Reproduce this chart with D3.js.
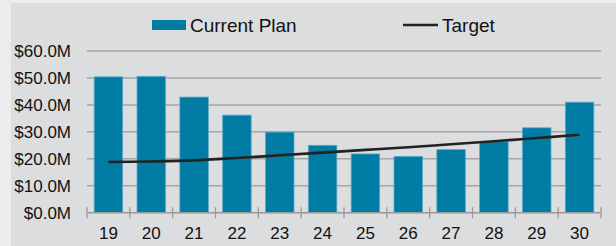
<!DOCTYPE html>
<html lang="en">
<head>
    <meta charset="UTF-8">
    <title>Current Plan vs Target</title>
    <script src="https://d3js.org/d3.v7.min.js"></script>
    <style>
        html, body { margin: 0; padding: 0; background: #ececec; }
        svg { display: block; font-family: "Liberation Sans", Arial, sans-serif; }
    </style>
</head>
<body>
    <svg></svg>
    <script>
        // Data
        const years = ["19", "20", "21", "22", "23", "24", "25", "26", "27", "28", "29", "30"];
        const currentPlan = [50.4, 50.6, 42.9, 36.2, 29.9, 25.0, 21.8, 20.9, 23.4, 26.3, 31.5, 41.0];
        const target = [18.8, 19.0, 19.4, 20.3, 21.3, 22.3, 23.3, 24.3, 25.4, 26.5, 27.7, 28.9];
        const yTicks = [0, 10, 20, 30, 40, 50, 60];

        const width = 616, height = 246;
        const svg = d3.select("svg").attr("width", width).attr("height", height);

        // grey panel
        svg.append("rect")
            .attr("x", 11).attr("y", 3)
            .attr("width", width - 11).attr("height", height - 3)
            .attr("fill", "#dcdddf");

        const x = d3.scaleBand()
            .domain(years)
            .range([87, 601])
            .paddingInner(0.335)
            .paddingOuter(0.1675);

        const y = d3.scaleLinear()
            .domain([0, 60])
            .range([212.7, 51]);

        // gridlines
        svg.append("g").selectAll("line")
            .data(yTicks.filter(d => d > 0))
            .enter().append("line")
            .attr("x1", 87).attr("x2", 601)
            .attr("y1", d => y(d)).attr("y2", d => y(d))
            .attr("stroke", "#a5a5a5")
            .attr("stroke-width", 1.5);

        // y axis labels
        svg.append("g").selectAll("text")
            .data(yTicks)
            .enter().append("text")
            .attr("x", 71)
            .attr("y", d => y(d))
            .attr("dy", "0.35em")
            .attr("text-anchor", "end")
            .style("font-size", "17px")
            .style("fill", "#111")
            .text(d => "$" + d.toFixed(1) + "M");

        // bars
        svg.append("g").selectAll("rect")
            .data(currentPlan)
            .enter().append("rect")
            .attr("x", (d, i) => x(years[i]))
            .attr("y", d => y(d))
            .attr("width", x.bandwidth())
            .attr("height", d => y(0) - y(d))
            .attr("fill", "#007ca5")
            .attr("stroke", "#5aa9c8")
            .attr("stroke-width", 0.8);

        // x axis
        const xAxis = svg.append("g").attr("transform", `translate(0,${y(0)})`);
        xAxis.append("line")
            .attr("x1", 87).attr("x2", 601)
            .attr("stroke", "#9a9a9a").attr("stroke-width", 1.5);
        const tickPos = years.map(d => x(d) - x.step() * x.paddingInner() / 2).concat([601]);
        xAxis.selectAll(".tick")
            .data(tickPos)
            .enter().append("line")
            .attr("x1", d => d).attr("x2", d => d)
            .attr("y1", -5.5).attr("y2", 5.5)
            .attr("stroke", "#9a9a9a").attr("stroke-width", 1.3);
        xAxis.selectAll("text")
            .data(years)
            .enter().append("text")
            .attr("x", d => x(d) + x.bandwidth() / 2)
            .attr("y", 26.5)
            .attr("text-anchor", "middle")
            .style("font-size", "17px")
            .style("fill", "#111")
            .text(d => d);

        // target line
        const line = d3.line()
            .x((d, i) => x(years[i]) + x.bandwidth() / 2)
            .y(d => y(d))
            .curve(d3.curveMonotoneX);
        svg.append("path")
            .datum(target)
            .attr("d", line)
            .attr("fill", "none")
            .attr("stroke", "#222")
            .attr("stroke-width", 2.6);

        // legend
        const legend = svg.append("g");
        legend.append("rect")
            .attr("x", 152).attr("y", 20)
            .attr("width", 34).attr("height", 10)
            .attr("fill", "#007ca5");
        legend.append("text")
            .attr("x", 190).attr("y", 31.5)
            .style("font-size", "19px")
            .style("fill", "#111")
            .text("Current Plan");
        legend.append("line")
            .attr("x1", 403).attr("x2", 438)
            .attr("y1", 25).attr("y2", 25)
            .attr("stroke", "#222").attr("stroke-width", 2.6);
        legend.append("text")
            .attr("x", 442).attr("y", 31.5)
            .style("font-size", "19px")
            .style("fill", "#111")
            .text("Target");
    </script>
</body>
</html>
